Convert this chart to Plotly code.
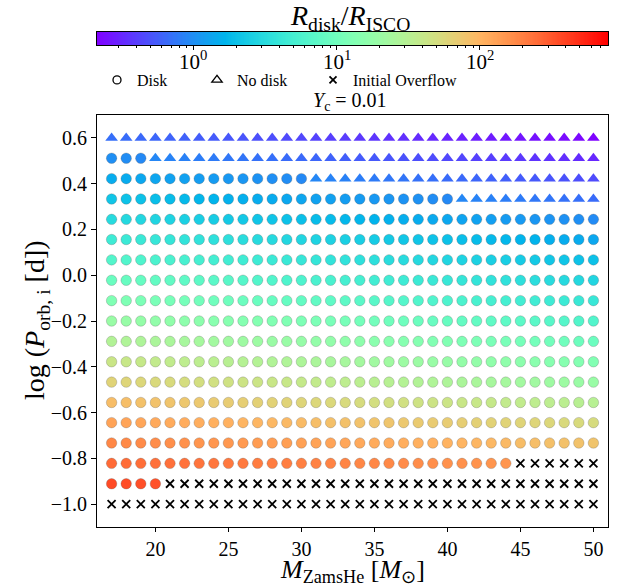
import numpy as np
import plotly.graph_objects as go

# ---------------- data ----------------
mass_zams_he = [17, 18, 19, 20, 21, 22, 23, 24, 25, 26, 27, 28, 29, 30, 31, 32, 33,
                34, 35, 36, 37, 38, 39, 40, 41, 42, 43, 44, 45, 46, 47, 48, 49, 50]
log_porb = [0.6, 0.511, 0.422, 0.333, 0.244, 0.156, 0.067, -0.022, -0.111, -0.2,
            -0.289, -0.378, -0.467, -0.556, -0.644, -0.733, -0.822, -0.911, -1.0]

# D = disk, N = no disk, X = initial overflow (one string per period row, 34 masses)
outcome_rows = [
    "NNNNNNNNNNNNNNNNNNNNNNNNNNNNNNNNNN",
    "DDDNNNNNNNNNNNNNNNNNNNNNNNNNNNNNNN",
    "DDDDDDDDDDDDDDNNNNNNNNNNNNNNNNNNNN",
    "DDDDDDDDDDDDDDDDDDDDDDDDNNNNNNNNNN",
    "DDDDDDDDDDDDDDDDDDDDDDDDDDDDDDDDDD",
    "DDDDDDDDDDDDDDDDDDDDDDDDDDDDDDDDDD",
    "DDDDDDDDDDDDDDDDDDDDDDDDDDDDDDDDDD",
    "DDDDDDDDDDDDDDDDDDDDDDDDDDDDDDDDDD",
    "DDDDDDDDDDDDDDDDDDDDDDDDDDDDDDDDDD",
    "DDDDDDDDDDDDDDDDDDDDDDDDDDDDDDDDDD",
    "DDDDDDDDDDDDDDDDDDDDDDDDDDDDDDDDDD",
    "DDDDDDDDDDDDDDDDDDDDDDDDDDDDDDDDDD",
    "DDDDDDDDDDDDDDDDDDDDDDDDDDDDDDDDDD",
    "DDDDDDDDDDDDDDDDDDDDDDDDDDDDDDDDDD",
    "DDDDDDDDDDDDDDDDDDDDDDDDDDDDDDDDDD",
    "DDDDDDDDDDDDDDDDDDDDDDDDDDDDDDDDDD",
    "DDDDDDDDDDDDDDDDDDDDDDDDDDDDXXXXXX",
    "DDDDXXXXXXXXXXXXXXXXXXXXXXXXXXXXXX",
    "XXXXXXXXXXXXXXXXXXXXXXXXXXXXXXXXXX",
]

# log10(R_disk / R_ISCO), one list per period row (None = initial overflow)
log_rdisk_risco = [
    [-0.16, -0.17, -0.19, -0.20, -0.22, -0.23, -0.25, -0.26, -0.28, -0.29, -0.31, -0.32, -0.34, -0.35, -0.37, -0.39, -0.40,
     -0.42, -0.43, -0.45, -0.46, -0.48, -0.49, -0.51, -0.52, -0.54, -0.55, -0.57, -0.58, -0.60, -0.61, -0.63, -0.64, -0.66],
    [0.00, -0.01, -0.03, -0.04, -0.06, -0.07, -0.09, -0.10, -0.12, -0.13, -0.15, -0.16, -0.18, -0.19, -0.21, -0.23, -0.24,
     -0.26, -0.27, -0.29, -0.30, -0.32, -0.33, -0.35, -0.36, -0.38, -0.39, -0.41, -0.42, -0.44, -0.45, -0.47, -0.48, -0.50],
    [0.17, 0.16, 0.14, 0.13, 0.11, 0.10, 0.08, 0.07, 0.05, 0.04, 0.02, 0.00, -0.01, -0.03, -0.04, -0.06, -0.07,
     -0.09, -0.10, -0.12, -0.13, -0.15, -0.16, -0.18, -0.19, -0.21, -0.23, -0.24, -0.26, -0.27, -0.29, -0.30, -0.32, -0.33],
    [0.33, 0.31, 0.30, 0.28, 0.27, 0.25, 0.23, 0.22, 0.20, 0.19, 0.17, 0.16, 0.14, 0.13, 0.11, 0.10, 0.08,
     0.07, 0.05, 0.04, 0.02, 0.01, -0.01, -0.03, -0.04, -0.06, -0.07, -0.09, -0.10, -0.12, -0.13, -0.15, -0.16, -0.18],
    [0.49, 0.47, 0.46, 0.44, 0.43, 0.41, 0.39, 0.38, 0.36, 0.35, 0.33, 0.32, 0.30, 0.29, 0.27, 0.26, 0.24,
     0.23, 0.21, 0.20, 0.18, 0.17, 0.15, 0.14, 0.12, 0.11, 0.09, 0.07, 0.06, 0.04, 0.03, 0.01, 0.00, -0.02],
    [0.65, 0.63, 0.62, 0.60, 0.59, 0.57, 0.56, 0.54, 0.53, 0.51, 0.49, 0.48, 0.46, 0.45, 0.43, 0.42, 0.40,
     0.39, 0.37, 0.36, 0.34, 0.33, 0.31, 0.30, 0.28, 0.27, 0.25, 0.24, 0.22, 0.21, 0.19, 0.17, 0.16, 0.14],
    [0.80, 0.79, 0.77, 0.75, 0.74, 0.72, 0.71, 0.69, 0.68, 0.66, 0.65, 0.63, 0.62, 0.60, 0.59, 0.57, 0.56,
     0.54, 0.53, 0.51, 0.50, 0.48, 0.46, 0.45, 0.43, 0.42, 0.40, 0.39, 0.37, 0.36, 0.34, 0.33, 0.31, 0.30],
    [0.96, 0.94, 0.93, 0.91, 0.90, 0.88, 0.87, 0.85, 0.84, 0.82, 0.80, 0.79, 0.77, 0.76, 0.74, 0.73, 0.71,
     0.70, 0.68, 0.67, 0.65, 0.64, 0.62, 0.61, 0.59, 0.58, 0.56, 0.55, 0.53, 0.52, 0.50, 0.48, 0.47, 0.45],
    [1.11, 1.10, 1.08, 1.07, 1.05, 1.04, 1.02, 1.00, 0.99, 0.97, 0.96, 0.94, 0.93, 0.91, 0.90, 0.88, 0.87,
     0.85, 0.84, 0.82, 0.81, 0.79, 0.78, 0.76, 0.75, 0.73, 0.71, 0.70, 0.68, 0.67, 0.65, 0.64, 0.62, 0.61],
    [1.29, 1.28, 1.26, 1.24, 1.23, 1.21, 1.20, 1.18, 1.17, 1.15, 1.14, 1.12, 1.11, 1.09, 1.08, 1.06, 1.05,
     1.03, 1.02, 1.00, 0.99, 0.97, 0.95, 0.94, 0.92, 0.91, 0.89, 0.88, 0.86, 0.85, 0.83, 0.82, 0.80, 0.79],
    [1.47, 1.45, 1.44, 1.42, 1.41, 1.39, 1.38, 1.36, 1.35, 1.33, 1.32, 1.30, 1.29, 1.27, 1.25, 1.24, 1.22,
     1.21, 1.19, 1.18, 1.16, 1.15, 1.13, 1.12, 1.10, 1.09, 1.07, 1.06, 1.04, 1.03, 1.01, 1.00, 0.98, 0.97],
    [1.63, 1.61, 1.60, 1.58, 1.57, 1.55, 1.54, 1.52, 1.51, 1.49, 1.48, 1.46, 1.45, 1.43, 1.42, 1.40, 1.39,
     1.37, 1.35, 1.34, 1.32, 1.31, 1.29, 1.28, 1.26, 1.25, 1.23, 1.22, 1.20, 1.19, 1.17, 1.16, 1.14, 1.13],
    [1.79, 1.77, 1.76, 1.74, 1.73, 1.71, 1.70, 1.68, 1.67, 1.65, 1.64, 1.62, 1.61, 1.59, 1.58, 1.56, 1.55,
     1.53, 1.51, 1.50, 1.48, 1.47, 1.45, 1.44, 1.42, 1.41, 1.39, 1.38, 1.36, 1.35, 1.33, 1.32, 1.30, 1.29],
    [1.95, 1.94, 1.92, 1.91, 1.90, 1.88, 1.87, 1.85, 1.84, 1.83, 1.81, 1.80, 1.79, 1.77, 1.76, 1.75, 1.73,
     1.72, 1.70, 1.69, 1.68, 1.66, 1.65, 1.64, 1.62, 1.61, 1.60, 1.58, 1.57, 1.55, 1.54, 1.53, 1.51, 1.50],
    [2.11, 2.10, 2.09, 2.07, 2.06, 2.05, 2.04, 2.03, 2.02, 2.00, 1.99, 1.98, 1.97, 1.96, 1.94, 1.93, 1.92,
     1.91, 1.90, 1.89, 1.87, 1.86, 1.85, 1.84, 1.83, 1.81, 1.80, 1.79, 1.78, 1.77, 1.76, 1.74, 1.73, 1.72],
    [2.26, 2.25, 2.24, 2.23, 2.22, 2.21, 2.19, 2.18, 2.17, 2.16, 2.15, 2.14, 2.13, 2.12, 2.11, 2.10, 2.09,
     2.07, 2.06, 2.05, 2.04, 2.03, 2.02, 2.01, 2.00, 1.99, 1.98, 1.97, 1.95, 1.94, 1.93, 1.92, 1.91, 1.90],
    [2.41, 2.40, 2.39, 2.38, 2.38, 2.37, 2.36, 2.35, 2.34, 2.33, 2.32, 2.32, 2.31, 2.30, 2.29, 2.28, 2.27,
     2.26, 2.26, 2.25, 2.24, 2.23, 2.22, 2.21, 2.21, 2.20, 2.19, 2.18, None, None, None, None, None, None],
    [2.56, 2.55, 2.54, 2.53, None, None, None, None, None, None, None, None, None, None, None, None, None,
     None, None, None, None, None, None, None, None, None, None, None, None, None, None, None, None, None],
    [None] * 34,
]

color_log_min = -0.674   # log10(0.212)
color_log_max = 2.896    # log10(787)
cbar_major = [0, 1, 2]
cbar_major_text = ["10<sup>0</sup>", "10<sup>1</sup>", "10<sup>2</sup>"]
cbar_minor_vals = [0.3, 0.4, 0.5, 0.6, 0.7, 0.8, 0.9, 2, 3, 4, 5, 6, 7, 8, 9,
                   20, 30, 40, 50, 60, 70, 80, 90, 200, 300, 400, 500, 600, 700]
x_ticks = [20, 25, 30, 35, 40, 45, 50]
y_ticks = [-1.0, -0.8, -0.6, -0.4, -0.2, 0.0, 0.2, 0.4, 0.6]

# ---------------- matplotlib "rainbow" colormap ----------------
def rainbow(t):
    r = min(1.0, abs(2 * t - 0.5))
    g = np.sin(np.pi * t)
    b = np.cos(np.pi * t / 2)
    return "rgb(%d,%d,%d)" % (round(255 * r), round(255 * max(g, 0)), round(255 * max(b, 0)))

cscale = [[s, rainbow(s)] for s in np.linspace(0, 1, 65)]

# ---------------- gather points ----------------
groups = {"D": ([], [], []), "N": ([], [], [])}
ox, oy = [], []
for j, yv in enumerate(log_porb):
    for i, xv in enumerate(mass_zams_he):
        o = outcome_rows[j][i]
        if o == "X":
            ox.append(xv); oy.append(yv)
        else:
            gx, gy, gc = groups[o]
            gx.append(xv); gy.append(yv); gc.append(log_rdisk_risco[j][i])

FONT = "Liberation Serif"
W, H = 627, 585
ML, MR, MT, MB = 97, 19, 32, 58
PH = H - MT - MB
PW = W - ML - MR

def py(ypx):
    return (H - MB - ypx) / PH

def px(xpx):
    return (xpx - ML) / PW

fig = go.Figure()

fig.add_trace(go.Scatter(
    x=groups["D"][0], y=groups["D"][1], mode="markers", showlegend=False,
    marker=dict(symbol="circle", size=10.5, color=groups["D"][2], colorscale=cscale,
                cmin=color_log_min, cmax=color_log_max,
                line=dict(width=0.6, color="rgba(90,90,90,0.45)")),
    xaxis="x", yaxis="y"))
fig.add_trace(go.Scatter(
    x=groups["N"][0], y=groups["N"][1], mode="markers", showlegend=False,
    marker=dict(symbol="triangle-up", size=11, color=groups["N"][2], colorscale=cscale,
                cmin=color_log_min, cmax=color_log_max, line=dict(width=0)),
    xaxis="x", yaxis="y"))
fig.add_trace(go.Scatter(
    x=ox, y=oy, mode="markers", showlegend=False,
    marker=dict(symbol="x-thin", size=8, color="black", line=dict(width=1.8, color="black")),
    xaxis="x", yaxis="y"))

# legend entries
fig.add_trace(go.Scatter(x=[None], y=[None], mode="markers", name="Disk", legend="legend",
                         marker=dict(symbol="circle-open", size=8, color="black", line=dict(width=1.3, color="black"))))
fig.add_trace(go.Scatter(x=[None], y=[None], mode="markers", name="No disk", legend="legend2",
                         marker=dict(symbol="triangle-up-open", size=9, color="black", line=dict(width=1.3, color="black"))))
fig.add_trace(go.Scatter(x=[None], y=[None], mode="markers", name="Initial Overflow", legend="legend3",
                         marker=dict(symbol="x-thin", size=7, color="black", line=dict(width=1.8, color="black"))))

# colorbar drawn as heatmap on its own axes
cb_x = np.linspace(color_log_min, color_log_max, 400)
fig.add_trace(go.Heatmap(x=cb_x, y=[0.5], z=[cb_x], colorscale=cscale, zmin=color_log_min,
                         zmax=color_log_max, showscale=False, hoverinfo="skip",
                         xaxis="x2", yaxis="y2"))

axis_common = dict(showline=True, linecolor="black", linewidth=1, mirror=True, showgrid=False,
                   zeroline=False, ticks="outside", tickcolor="black", tickwidth=1,
                   tickfont=dict(family=FONT, size=20, color="black"))

leg_common = dict(orientation="h", yanchor="middle", xanchor="left", bgcolor="rgba(0,0,0,0)",
                  font=dict(family=FONT, size=16, color="black"), itemclick=False)

annotations = [
    dict(text="<i>R</i><sub>disk</sub>/<i>R</i><sub>ISCO</sub>", x=px(350), y=py(17),
         xref="paper", yref="paper", showarrow=False, xanchor="center", yanchor="middle",
         font=dict(family=FONT, size=28, color="black")),
    dict(text="<i>Y</i><sub>c</sub> = 0.01", x=px(350), y=py(101),
         xref="paper", yref="paper", showarrow=False, xanchor="center", yanchor="middle",
         font=dict(family=FONT, size=20, color="black")),
    dict(text="<i>M</i><sub>ZamsHe</sub> [<i>M</i><sub>⊙</sub>]", x=px(352), y=py(571),
         xref="paper", yref="paper", showarrow=False, xanchor="center", yanchor="middle",
         font=dict(family=FONT, size=26, color="black")),
    dict(text="log (<i>P</i><sub>orb, i</sub> [d])", x=px(36), y=py(320), textangle=-90,
         xref="paper", yref="paper", showarrow=False, xanchor="center", yanchor="middle",
         font=dict(family=FONT, size=28, color="black")),
]
for v, t in zip(cbar_major, cbar_major_text):
    annotations.append(dict(text=t, x=v, y=py(60), xref="x2", yref="paper", showarrow=False,
                            xanchor="center", yanchor="middle",
                            font=dict(family=FONT, size=21, color="black")))

fig.update_layout(
    width=W, height=H, margin=dict(l=ML, r=MR, t=MT, b=MB),
    paper_bgcolor="white", plot_bgcolor="white",
    font=dict(family=FONT, size=16, color="black"),
    xaxis=dict(domain=[0, 1], range=[16, 51], tickvals=x_ticks, ticklen=4, anchor="y", **axis_common),
    yaxis=dict(domain=[0, py(115)], range=[-1.1, 0.7], tickvals=y_ticks, tickformat=".1f",
               ticklen=5, anchor="x", **axis_common),
    xaxis2=dict(domain=[0, 1], range=[color_log_min, color_log_max], anchor="y2",
                showline=True, linecolor="black", linewidth=1, mirror=True, showgrid=False,
                zeroline=False, ticks="outside", tickcolor="black", ticklen=4, tickwidth=1,
                tickvals=cbar_major, showticklabels=False,
                minor=dict(tickmode="array", tickvals=list(np.log10(cbar_minor_vals)),
                           ticks="outside", ticklen=2, tickcolor="black", tickwidth=1)),
    yaxis2=dict(domain=[py(45), 1], range=[0, 1], anchor="x2", showline=True, linecolor="black",
                linewidth=1, mirror=True, showgrid=False, zeroline=False, showticklabels=False,
                ticks=""),
    legend=dict(x=px(97), y=py(80), **leg_common),
    legend2=dict(x=px(197), y=py(80), **leg_common),
    legend3=dict(x=px(313), y=py(80), **leg_common),
    annotations=annotations,
)

fig.write_html("out.html")
